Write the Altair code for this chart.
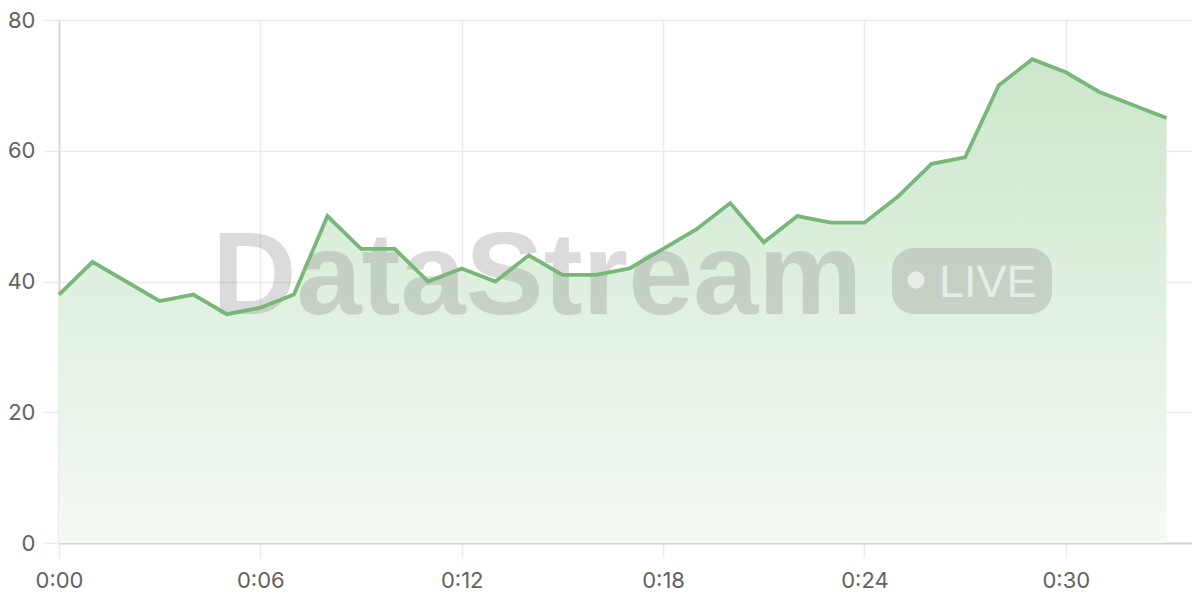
import altair as alt
import pandas as pd

minutes = [0, 1, 2, 3, 4, 5, 6, 7, 8, 9, 10, 11, 12, 13, 14, 15, 16, 17,
           18, 19, 20, 21, 22, 23, 24, 25, 26, 27, 28, 29, 30, 31, 32, 33]
values = [38, 43, 40, 37, 38, 35, 36, 38, 50, 45, 45, 40, 42, 40, 44, 41, 41, 42,
          45, 48, 52, 46, 50, 49, 49, 53, 58, 59, 70, 74, 72, 69, 67, 65]
x_ticks = [0, 6, 12, 18, 24, 30]
y_ticks = [0, 20, 40, 60, 80]
watermark_title = "DataStream"
watermark_badge = "LIVE"

df = pd.DataFrame({"t": minutes, "v": values})

FONT = "Inter"
LINE = "#77b879"

x_enc = alt.X(
    "t:Q",
    scale=alt.Scale(domain=[0, 33.76], nice=False, zero=False),
    axis=alt.Axis(
        values=x_ticks,
        labelExpr="'0:' + (datum.value < 10 ? '0' : '') + datum.value",
        title=None,
        grid=True,
        gridColor="#ebebeb",
        gridWidth=1.5,
        tickColor="#ebebeb",
        tickWidth=1.5,
        tickSize=15,
        domainColor="#d2d2d2",
        domainWidth=2,
        labelPadding=12,
        labelFlush=False,
        labelFontSize=22,
        labelFont=FONT,
        labelColor="#626262",
    ),
)
y_enc = alt.Y(
    "v:Q",
    scale=alt.Scale(domain=[0, 80], nice=False),
    axis=alt.Axis(
        values=y_ticks,
        title=None,
        grid=True,
        gridColor="#ebebeb",
        gridWidth=1.5,
        tickColor="#ebebeb",
        tickWidth=1.5,
        tickSize=16,
        domainColor="#d8d8d8",
        domainWidth=2,
        labelPadding=8,
        labelFlush=False,
        labelFontSize=22,
        labelFont=FONT,
        labelColor="#626262",
    ),
)

base = alt.Chart(df)

area = base.mark_area(
    color=alt.Gradient(
        gradient="linear",
        x1=0, y1=0, x2=0, y2=1,
        stops=[
            alt.GradientStop(offset=0, color="#cce6cc"),
            alt.GradientStop(offset=1, color="#f5faf5"),
        ],
    ),
    opacity=1,
).encode(x=x_enc, y=y_enc)

one = alt.Data(values=[{"k": 1}])

wm_text = alt.Chart(one).mark_text(
    text=watermark_title,
    font="Liberation Sans",
    fontWeight="bold",
    fontSize=117,
    align="left",
    baseline="alphabetic",
    color="#8a8a8a",
    opacity=0.3,
).encode(x=alt.value(153), y=alt.value(294))

badge = alt.Chart(one).mark_rect(
    color="#8a8a8a",
    opacity=0.3,
    cornerRadius=22,
).encode(x=alt.value(833), x2=alt.value(993), y=alt.value(228), y2=alt.value(294))

dot = alt.Chart(one).mark_circle(
    color="#ffffff", opacity=0.6, size=300
).encode(x=alt.value(857), y=alt.value(260))

live = alt.Chart(one).mark_text(
    text=watermark_badge,
    font="Liberation Sans",
    fontSize=45,
    align="left",
    baseline="alphabetic",
    color="#ffffff",
    opacity=0.6,
).encode(x=alt.value(880), y=alt.value(277))

line = base.mark_line(color=LINE, strokeWidth=3.8).encode(x=x_enc, y=y_enc)

chart = (
    alt.layer(area, wm_text, badge, dot, live, line)
    .properties(
        width=1133,
        height=523,
        autosize=alt.AutoSizeParams(type="none"),
        padding={"left": 51, "top": 12, "right": 0, "bottom": 48},
    )
    .configure_view(stroke=None)
)

chart.save("out.html", embed_options={"renderer": "svg", "actions": False})
